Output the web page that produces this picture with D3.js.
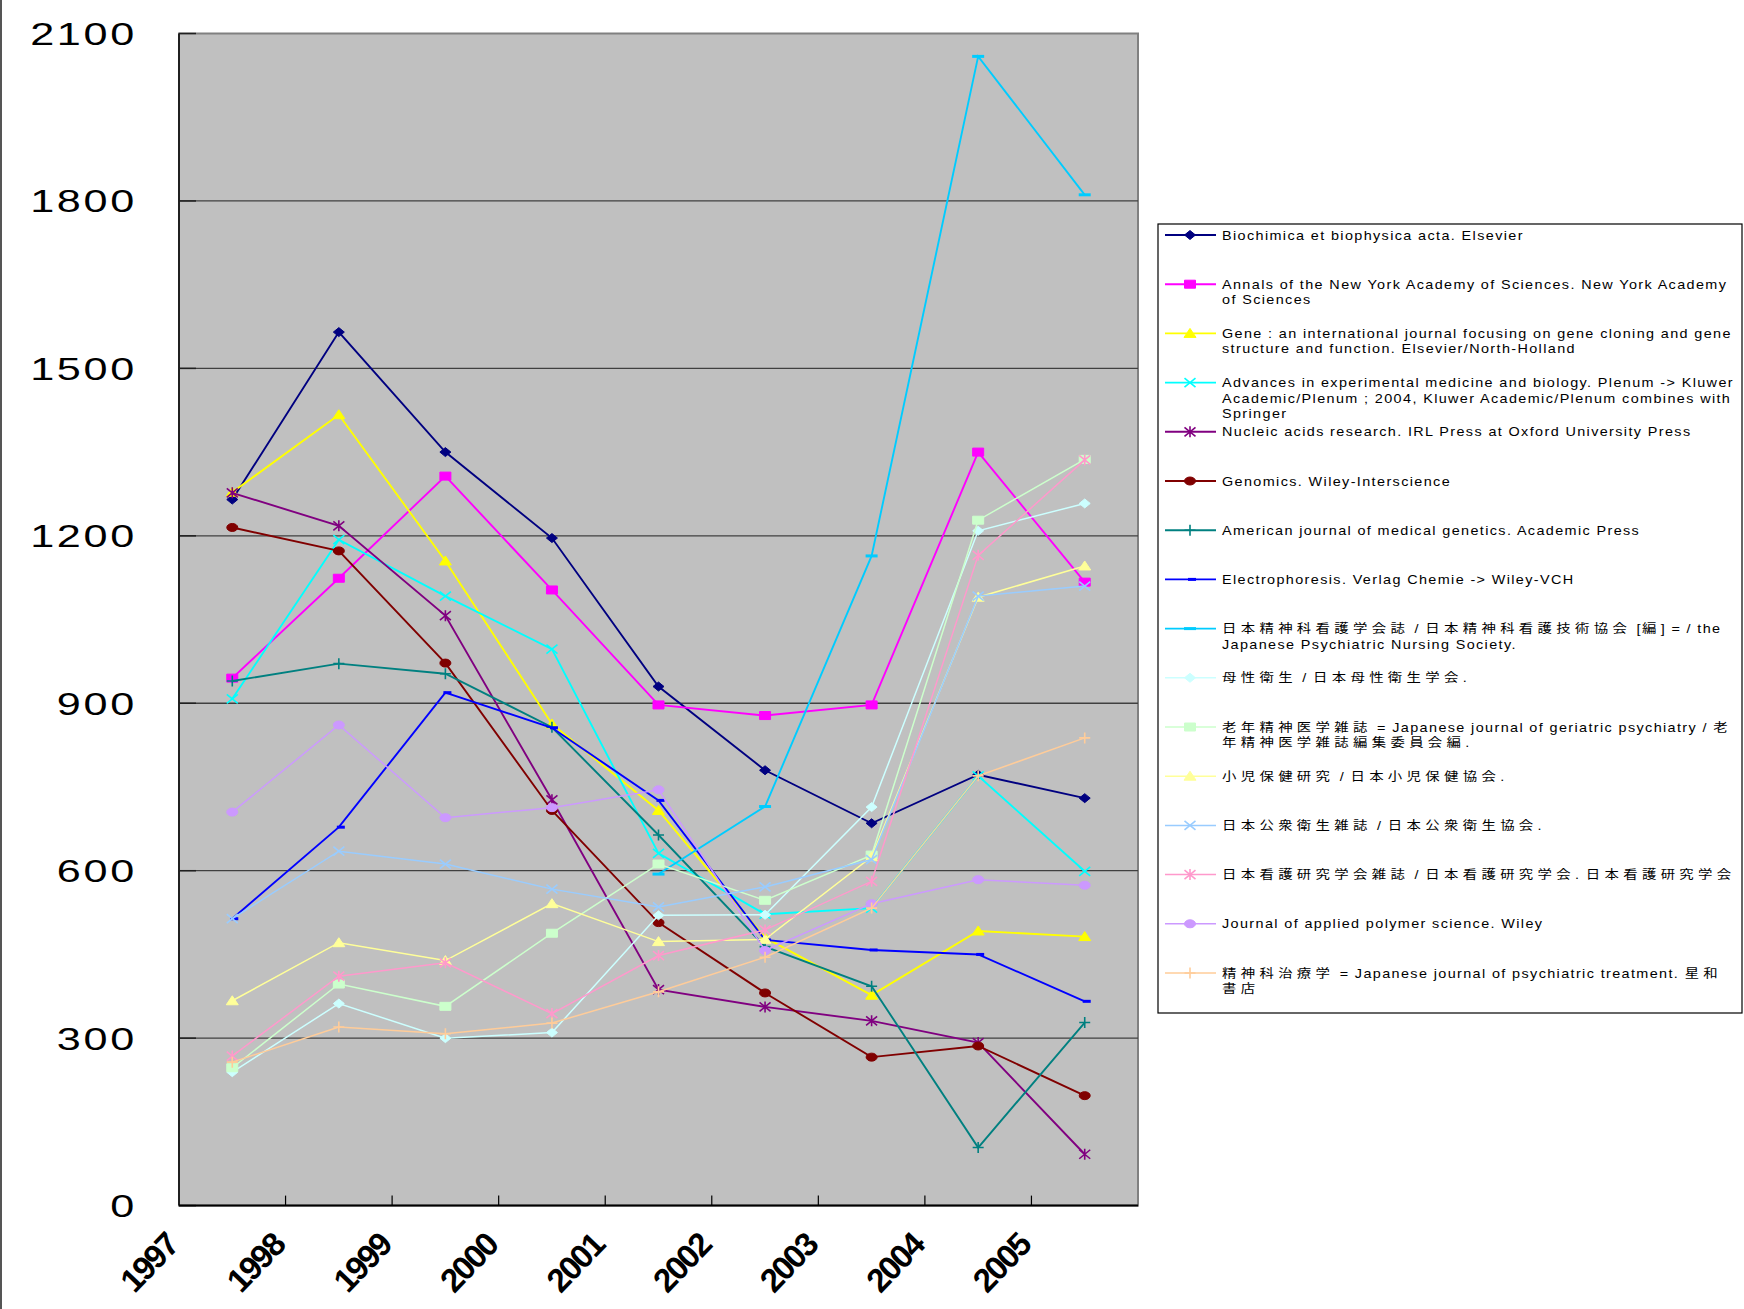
<!DOCTYPE html>
<html lang="ja">
<head>
<meta charset="utf-8">
<title>Journals 1997-2005</title>
<script src="https://d3js.org/d3.v7.min.js"></script>
<style>
  body { margin: 0; background: #fff; }
  text { font-family: "Liberation Sans", "Noto Sans CJK JP", sans-serif; fill: #000; }
</style>
</head>
<body>
<script>
// category labels and y ticks
var years = ["1997", "1998", "1999", "2000", "2001", "2002", "2003", "2004", "2005"];
var yTicks = [0, 300, 600, 900, 1200, 1500, 1800, 2100];

// series values (null = no value)
var biochimica   = [1265, 1565, 1350, 1196, 930, 780, 685, 772, 730];
var annals       = [945, 1124, 1307, 1103, 897, 878, 897, 1350, 1117];
var gene         = [1278, 1417, 1155, 863, 708, 480, 377, 492, 482];
var advances     = [908, 1193, 1092, 997, 631, 522, 533, 770, 599];
var nucleic      = [1277, 1218, 1057, 727, 387, 356, 331, 292, 92];
var genomics     = [1215, 1173, 972, 708, 507, 381, 266, 286, 197];
var amJMedGen    = [940, 971, 953, 857, 664, 464, 393, 104, 328];
var electro      = [514, 678, 919, 856, 726, 476, 458, 450, 366];
var psychNursing = [null, null, null, null, 594, 715, 1164, 2059, 1811];
var boseiEisei   = [239, 362, 300, 310, 520, 521, 714, 1209, 1258];
var ronenSeishin = [247, 397, 357, 488, 612, 547, 628, 1228, 1337];
var shoniHoken   = [367, 471, 439, 541, 473, 477, 625, 1090, 1146];
var koshuEisei   = [514, 635, 612, 567, 535, 571, 620, 1092, 1110];
var kangoKenkyu  = [268, 411, 435, 344, 448, 494, 581, 1165, 1336];
var polymer      = [705, 861, 695, 713, 745, 457, 541, 584, 574];
var seishinChiryo= [257, 320, 308, 327, 383, 445, 533, 770, 838];

// legend names, line breaks as in the picture
var names = [
  "Biochimica et biophysica acta. Elsevier",
  "Annals of the New York Academy of Sciences. New York Academy\nof Sciences",
  "Gene : an international journal focusing on gene cloning and gene\nstructure and function. Elsevier/North-Holland",
  "Advances in experimental medicine and biology. Plenum -> Kluwer\nAcademic/Plenum ; 2004, Kluwer Academic/Plenum combines with\nSpringer",
  "Nucleic acids research. IRL Press at Oxford University Press",
  "Genomics. Wiley-Interscience",
  "American journal of medical genetics. Academic Press",
  "Electrophoresis. Verlag Chemie -> Wiley-VCH",
  "日本精神科看護学会誌 / 日本精神科看護技術協会 [編] = / the\nJapanese Psychiatric Nursing Society.",
  "母性衛生 / 日本母性衛生学会.",
  "老年精神医学雑誌 = Japanese journal of geriatric psychiatry / 老\n年精神医学雑誌編集委員会編.",
  "小児保健研究 / 日本小児保健協会.",
  "日本公衆衛生雑誌 / 日本公衆衛生協会.",
  "日本看護研究学会雑誌 / 日本看護研究学会. 日本看護研究学会",
  "Journal of applied polymer science. Wiley",
  "精神科治療学 = Japanese journal of psychiatric treatment. 星和\n書店"
];

var values = [biochimica, annals, gene, advances, nucleic, genomics, amJMedGen, electro,
              psychNursing, boseiEisei, ronenSeishin, shoniHoken, koshuEisei, kangoKenkyu,
              polymer, seishinChiryo];

var colors = ["#000080", "#ff00ff", "#ffff00", "#00ffff", "#800080", "#800000", "#008080", "#0000ff",
              "#00ccff", "#ccffff", "#ccffcc", "#ffff99", "#99ccff", "#ff99cc", "#cc99ff", "#ffcc99"];
var markers = ["diamond", "square", "triangle", "x", "star", "circle", "plus", "dash",
               "longdash", "diamond", "square", "triangle", "x", "star", "circle", "plus"];

var series = names.map(function(n, i) {
  return { name: n, values: values[i], color: colors[i], marker: markers[i], pale: i >= 9 };
});

var width = 1744, height = 1309;
var plotLeft = 179, plotRight = 1138, plotTop = 33.5, plotBottom = 1205.6;

var svg = d3.select("body").append("svg")
    .attr("width", width)
    .attr("height", height);

// thin frame line on the left side of the picture
svg.append("line")
    .attr("x1", 1).attr("x2", 1).attr("y1", 0).attr("y2", height)
    .attr("stroke", "#555").attr("stroke-width", 2);

var x = d3.scaleBand().domain(years).range([plotLeft, plotRight]);
var y = d3.scaleLinear().domain([0, 2100]).range([plotBottom, plotTop]);

// plot area
svg.append("rect")
    .attr("x", plotLeft).attr("y", plotTop)
    .attr("width", plotRight - plotLeft).attr("height", plotBottom - plotTop)
    .attr("fill", "#c0c0c0")
    .attr("stroke", "#808080").attr("stroke-width", 2);

// gridlines
svg.append("g").selectAll("line")
    .data(yTicks.filter(function(d) { return d > 0 && d < 2100; }))
    .enter().append("line")
    .attr("x1", plotLeft).attr("x2", plotRight)
    .attr("y1", function(d) { return y(d); }).attr("y2", function(d) { return y(d); })
    .attr("stroke", "#404040").attr("stroke-width", 1.3);

// y axis
var yAxis = svg.append("g");
yAxis.append("line")
    .attr("x1", plotLeft).attr("x2", plotLeft).attr("y1", plotTop).attr("y2", plotBottom)
    .attr("stroke", "#000").attr("stroke-width", 1.5);
yAxis.selectAll(".tick")
    .data(yTicks).enter().append("line")
    .attr("x1", plotLeft).attr("x2", plotLeft + 17)
    .attr("y1", function(d) { return y(d); }).attr("y2", function(d) { return y(d); })
    .attr("stroke", "#202020").attr("stroke-width", 1.5);
yAxis.selectAll("text")
    .data(yTicks).enter().append("text")
    .attr("transform", function(d) { return "translate(137," + (y(d) + 3) + ") scale(1.35,1)"; })
    .attr("text-anchor", "end")
    .attr("dominant-baseline", "middle")
    .style("font-size", "32px")
    .style("letter-spacing", "2px")
    .text(function(d) { return d; });

// x axis
var xAxis = svg.append("g");
xAxis.append("line")
    .attr("x1", plotLeft).attr("x2", plotRight).attr("y1", plotBottom).attr("y2", plotBottom)
    .attr("stroke", "#000").attr("stroke-width", 2);
xAxis.selectAll(".tick")
    .data(years.slice(1)).enter().append("line")
    .attr("x1", function(d) { return x(d); }).attr("x2", function(d) { return x(d); })
    .attr("y1", plotBottom).attr("y2", plotBottom - 10)
    .attr("stroke", "#000").attr("stroke-width", 1.2);
xAxis.selectAll("text")
    .data(years).enter().append("text")
    .attr("transform", function(d) { return "translate(" + (x(d) + 1) + "," + (plotBottom + 41.5) + ") rotate(-46)"; })
    .attr("text-anchor", "end")
    .style("font-size", "33px")
    .style("font-weight", "bold")
    .style("letter-spacing", "-2px")
    .text(function(d) { return d; });

// marker shapes (slightly wide, like the picture)
function markerPath(type) {
  switch (type) {
    case "diamond":  return "M0,-4.5L5.5,0L0,4.5L-5.5,0Z";
    case "square":   return "M-5.5,-4L5.5,-4L5.5,4L-5.5,4Z";
    case "triangle": return "M0,-5L6,4L-6,4Z";
    case "circle":   return "M-5.5,0A5.5,4 0 1,0 5.5,0A5.5,4 0 1,0 -5.5,0Z";
    case "x":        return "M-5.5,-4.5L5.5,4.5M-5.5,4.5L5.5,-4.5";
    case "star":     return "M-5.5,-4.5L5.5,4.5M-5.5,4.5L5.5,-4.5M0,-5.5L0,5.5";
    case "plus":     return "M-5.5,0L5.5,0M0,-5.5L0,5.5";
    case "dash":     return "M-2,0L6,0";
    case "longdash": return "M-6,0L6,0";
  }
}
function isFilled(type) {
  return type === "diamond" || type === "square" || type === "triangle" || type === "circle";
}
function drawMarker(g, type, color) {
  var p = g.append("path").attr("d", markerPath(type));
  if (isFilled(type)) {
    p.attr("fill", color).attr("stroke", color).attr("stroke-width", 1);
  } else {
    p.attr("fill", "none").attr("stroke", color)
     .attr("stroke-width", (type === "dash" || type === "longdash") ? 3 : 1.6);
  }
}

var cx = function(i) { return x(years[i]) + x.bandwidth() / 2; };

var line = d3.line()
    .defined(function(d) { return d != null; })
    .x(function(d, i) { return cx(i); })
    .y(function(d) { return y(d); });

var plot = svg.append("g");
series.forEach(function(s) {
  var g = plot.append("g");
  g.append("path")
      .attr("d", line(s.values))
      .attr("fill", "none")
      .attr("stroke", s.color)
      .attr("stroke-width", s.pale ? 1.5 : 1.9);
  s.values.forEach(function(v, i) {
    if (v == null) return;
    var m = g.append("g").attr("transform", "translate(" + cx(i) + "," + y(v) + ")");
    drawMarker(m, s.marker, s.color);
  });
});

// legend
var legX = 1158, legY = 224, legW = 584, legH = 789;
var legend = svg.append("g");
legend.append("rect")
    .attr("x", legX).attr("y", legY).attr("width", legW).attr("height", legH)
    .attr("fill", "#fff").attr("stroke", "#000").attr("stroke-width", 1.2);

var cjk = /([\u3000-\u9fff\uff00-\uffef]+)/;

series.forEach(function(s, i) {
  var yy = 235 + i * 49.2;
  var item = legend.append("g");
  item.append("line")
      .attr("x1", 1165).attr("x2", 1216).attr("y1", yy).attr("y2", yy)
      .attr("stroke", s.color).attr("stroke-width", s.pale ? 1.5 : 1.9);
  drawMarker(item.append("g").attr("transform", "translate(1190," + yy + ")"), s.marker, s.color);

  var t = item.append("text")
      .attr("transform", "translate(1222," + (yy + 4.5) + ") scale(1.2,1)")
      .style("font-size", "12px");
  s.name.split("\n").forEach(function(ln, k) {
    var row = t.append("tspan").attr("x", 0).attr("y", k * 15.5);
    ln.split(cjk).forEach(function(part) {
      if (!part) return;
      row.append("tspan")
          .style("letter-spacing", cjk.test(part) ? "3.6px" : "1.15px")
          .text(part);
    });
  });
});
</script>
</body>
</html>
